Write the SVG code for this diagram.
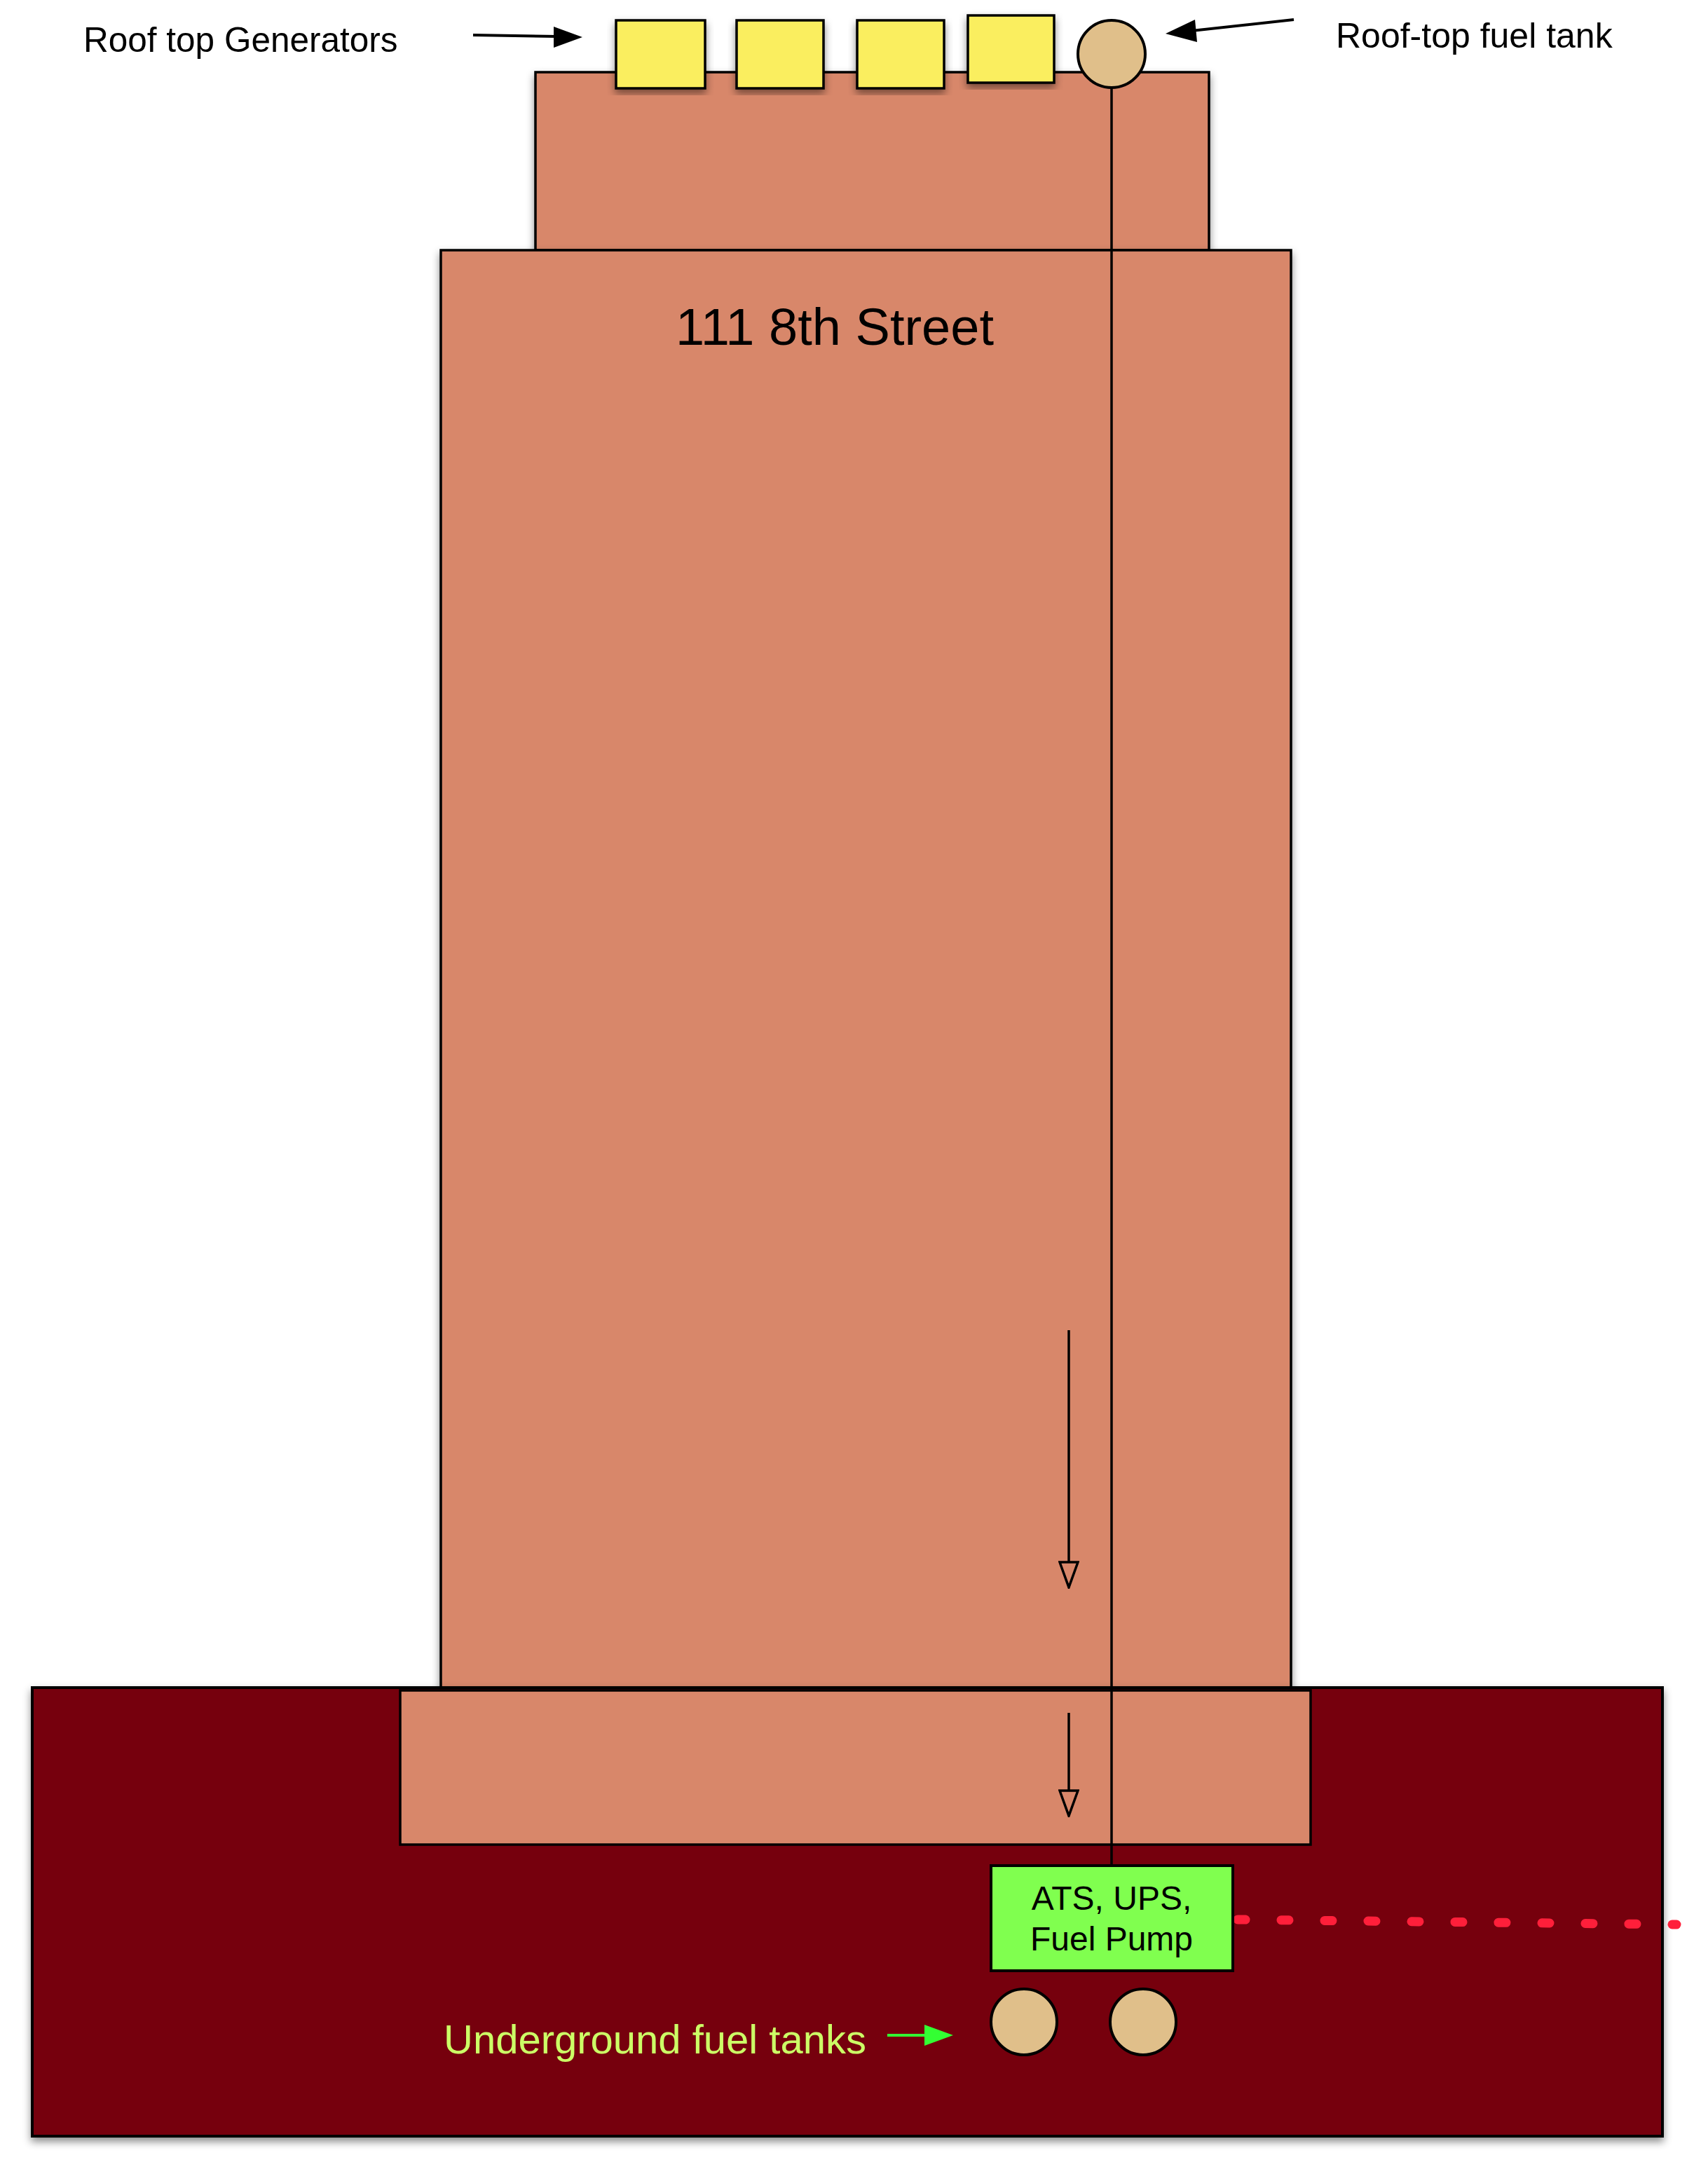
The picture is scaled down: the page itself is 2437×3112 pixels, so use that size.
<svg xmlns="http://www.w3.org/2000/svg" width="2437" height="3112" viewBox="0 0 2437 3112">
<style>
.lbl{font-family:"Liberation Sans",Arial,sans-serif;fill:#000}
.brick{fill:#D8876A;stroke:#000;stroke-width:3.5}
.gen{fill:#FAEE5E;stroke:#000;stroke-width:3.5}
.tank{fill:#E0BF8A;stroke:#000;stroke-width:4}
.conn{stroke:#000;stroke-width:3.5;fill:none}
</style>
<defs>
<filter id="sh" x="-10%" y="-10%" width="120%" height="120%">
<feDropShadow dx="0" dy="6" stdDeviation="6" flood-color="#000" flood-opacity="0.45"/>
</filter>
<marker id="open" viewBox="0 0 40 30" refX="2" refY="15" markerWidth="40" markerHeight="30" markerUnits="userSpaceOnUse" orient="auto">
<path d="M2,2 L38,15 L2,28 Z" fill="none" stroke="#000" stroke-width="3.5"/>
</marker>
</defs>
<rect width="2437" height="3112" fill="#fff"/>
<g id="roof-block"><rect class="brick" x="764" y="103" width="961" height="254" filter="url(#sh)"/></g>
<g id="tower"><rect class="brick" x="629" y="357" width="1213" height="2051" filter="url(#sh)"/>
<text class="lbl" x="1191" y="492" font-size="74" text-anchor="middle">111 8th Street</text></g>
<g id="base"><rect x="46" y="2408" width="2326" height="640" fill="#760311" stroke="#000" stroke-width="4" filter="url(#sh)"/></g>
<g id="lower-floor"><rect class="brick" x="571" y="2412" width="1299" height="220"/></g>
<g id="connectors">
<line class="conn" x1="1586" y1="120" x2="1586" y2="2662"/>
<line class="conn" x1="1525" y1="1898" x2="1525" y2="2229" marker-end="url(#open)"/>
<line class="conn" x1="1525" y1="2444" x2="1525" y2="2555" marker-end="url(#open)"/>
<line x1="1766" y1="2739" x2="2392" y2="2746" stroke="#FF1F3A" stroke-width="13" stroke-linecap="round" stroke-dasharray="11 51"/>
<line x1="675" y1="50" x2="795" y2="52" stroke="#000" stroke-width="4"/>
<path d="M790,38 L831,53 L790,68 Z" fill="#000"/>
<line x1="1846" y1="28" x2="1700" y2="44" stroke="#000" stroke-width="4"/>
<path d="M1705,28 L1663,48 L1708,60 Z" fill="#000"/>
<line x1="1266" y1="2904" x2="1322" y2="2904" stroke="#33FF33" stroke-width="4"/>
<path d="M1319,2889 L1360,2904 L1319,2919 Z" fill="#33FF33"/>
</g>
<g id="gen1"><rect class="gen" x="879" y="29" width="127" height="97" filter="url(#sh)"/></g>
<g id="gen2"><rect class="gen" x="1051" y="29" width="124" height="97" filter="url(#sh)"/></g>
<g id="gen3"><rect class="gen" x="1223" y="29" width="124" height="97" filter="url(#sh)"/></g>
<g id="gen4"><rect class="gen" x="1381" y="22" width="123" height="96" filter="url(#sh)"/></g>
<g id="roof-tank"><circle class="tank" cx="1586" cy="77" r="48"/></g>
<g id="ats"><rect x="1414" y="2662" width="345" height="150" fill="#80FF4F" stroke="#000" stroke-width="4"/>
<text class="lbl" x="1586" y="2725" font-size="48" text-anchor="middle">ATS, UPS,</text>
<text class="lbl" x="1586" y="2783" font-size="48" text-anchor="middle">Fuel Pump</text></g>
<g id="ug-tank1"><circle class="tank" cx="1461" cy="2885" r="47"/></g>
<g id="ug-tank2"><circle class="tank" cx="1631" cy="2885" r="47"/></g>
<text class="lbl" x="119" y="74" font-size="49.5">Roof top Generators</text>
<text class="lbl" x="1906" y="68" font-size="50">Roof-top fuel tank</text>
<text x="633" y="2930" font-size="58" font-family="'Liberation Sans',Arial,sans-serif" fill="#CCFF66">Underground fuel tanks</text>
</svg>
